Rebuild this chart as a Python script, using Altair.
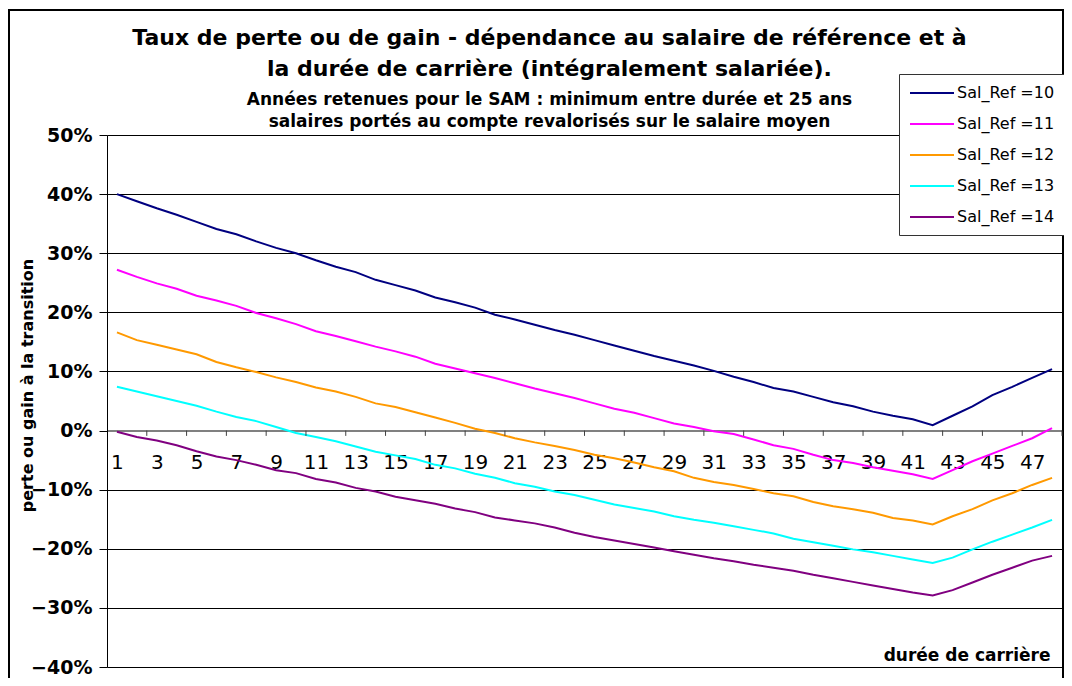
import altair as alt
import pandas as pd

durees = list(range(1, 49))

sal_ref_10 = [40.0, 38.8, 37.6, 36.5, 35.3, 34.1, 33.2, 32.0, 30.9, 30.0,
              28.8, 27.7, 26.8, 25.5, 24.6, 23.7, 22.5, 21.7, 20.8, 19.6,
              18.8, 17.9, 17.0, 16.2, 15.3, 14.4, 13.5, 12.6, 11.8, 11.0,
              10.1, 9.1, 8.2, 7.2, 6.6, 5.7, 4.8, 4.1, 3.2, 2.5,
              1.9, 0.9, 2.5, 4.1, 6.0, 7.4, 8.9, 10.4]
sal_ref_11 = [27.2, 26.0, 24.9, 24.0, 22.8, 22.0, 21.1, 19.9, 19.0, 18.0,
              16.8, 16.0, 15.1, 14.2, 13.4, 12.5, 11.3, 10.5, 9.7, 8.9,
              8.0, 7.1, 6.3, 5.5, 4.6, 3.7, 3.0, 2.1, 1.2, 0.6,
              -0.1, -0.6, -1.5, -2.5, -3.1, -4.1, -5.0, -5.5, -6.2, -6.8,
              -7.4, -8.2, -6.7, -5.2, -3.9, -2.6, -1.3, 0.4]
sal_ref_12 = [16.6, 15.3, 14.5, 13.7, 12.9, 11.6, 10.7, 9.9, 9.0, 8.2,
              7.3, 6.6, 5.7, 4.6, 4.0, 3.1, 2.2, 1.3, 0.3, -0.4,
              -1.3, -2.0, -2.6, -3.3, -4.1, -4.7, -5.4, -6.2, -6.9, -8.0,
              -8.7, -9.2, -9.9, -10.6, -11.1, -12.1, -12.8, -13.3, -13.9, -14.8,
              -15.2, -15.9, -14.5, -13.3, -11.8, -10.6, -9.2, -8.0]
sal_ref_13 = [7.4, 6.6, 5.8, 5.0, 4.2, 3.2, 2.3, 1.6, 0.6, -0.4,
              -1.1, -1.8, -2.7, -3.6, -4.2, -4.8, -5.8, -6.4, -7.3, -8.0,
              -8.9, -9.5, -10.3, -10.9, -11.7, -12.5, -13.1, -13.7, -14.5, -15.1,
              -15.6, -16.2, -16.8, -17.4, -18.3, -18.9, -19.5, -20.1, -20.6, -21.2,
              -21.8, -22.4, -21.5, -20.1, -18.8, -17.6, -16.4, -15.1]
sal_ref_14 = [-0.2, -1.1, -1.7, -2.5, -3.5, -4.4, -5.0, -5.8, -6.7, -7.2,
              -8.2, -8.8, -9.7, -10.3, -11.2, -11.8, -12.4, -13.2, -13.8, -14.7,
              -15.2, -15.7, -16.4, -17.3, -18.0, -18.6, -19.2, -19.8, -20.4, -21.0,
              -21.6, -22.1, -22.7, -23.2, -23.7, -24.4, -25.0, -25.6, -26.2, -26.8,
              -27.4, -27.9, -27.0, -25.7, -24.4, -23.2, -22.0, -21.2]

series_names = ["Sal_Ref =10", "Sal_Ref =11", "Sal_Ref =12", "Sal_Ref =13", "Sal_Ref =14"]
series_values = [sal_ref_10, sal_ref_11, sal_ref_12, sal_ref_13, sal_ref_14]
series_colors = ["#000080", "#FF00FF", "#FF9900", "#00FFFF", "#800080"]

x_labels = list(range(1, 48, 2))
tick_bounds = [k + 0.5 for k in range(2, 49, 2)]
y_ticks = [-0.4, -0.3, -0.2, -0.1, 0.0, 0.1, 0.2, 0.3, 0.4, 0.5]

rows = []
for name, vals in zip(series_names, series_values):
    for d, v in zip(durees, vals):
        rows.append({"duree": d, "taux": v / 100.0, "serie": name})
df = pd.DataFrame(rows)

ticks_df = pd.DataFrame({"b": tick_bounds, "y0": [0.0] * len(tick_bounds),
                         "y1": [-0.009] * len(tick_bounds)})

PLOT_W = 955
PLOT_H = 532
FONT = "DejaVu Sans"

x_scale = alt.Scale(domain=[0.5, 48.5], nice=False, zero=False)
y_scale = alt.Scale(domain=[-0.4, 0.5], nice=False, zero=False)

lines = alt.Chart(df).mark_line(strokeWidth=2).encode(
    x=alt.X("duree:Q", scale=x_scale,
            axis=alt.Axis(values=x_labels, ticks=False, grid=False,
                          offset=-PLOT_H * 4 / 9,
                          domainColor="#808080", domainWidth=2,
                          labelFont=FONT, labelFontSize=20, labelColor="black",
                          labelPadding=22, labelFlush=False,
                          title="durée de carrière", titleFont=FONT,
                          titleFontSize=17, titleFontWeight="bold",
                          titleColor="black", titleAlign="right",
                          titleBaseline="alphabetic",
                          titleX=PLOT_W - 12, titleY=230)),
    y=alt.Y("taux:Q", scale=y_scale,
            axis=alt.Axis(values=y_ticks, format=".0%", grid=True,
                          gridColor="black", gridWidth=1,
                          domainColor="black", domainWidth=1,
                          tickColor="black", tickSize=8,
                          labelFont=FONT, labelFontSize=19, labelFontWeight="bold",
                          labelColor="black", labelPadding=7,
                          title="perte ou gain à la transition", titleFont=FONT,
                          titleFontSize=16, titleFontWeight="bold",
                          titleColor="black", titleAngle=-90,
                          titleX=-80, titleY=250, titleAlign="center",
                          titleBaseline="middle")),
    color=alt.Color("serie:N",
                    scale=alt.Scale(domain=series_names, range=series_colors),
                    legend=alt.Legend(title=None, orient="none",
                                      legendX=792, legendY=-61,
                                      fillColor="white", strokeColor="#333333",
                                      padding=10, symbolType="M-1,0H4.5",
                                      symbolSize=256, symbolStrokeWidth=2,
                                      labelFont=FONT, labelFontSize=16,
                                      labelColor="black", rowPadding=14,
                                      labelOffset=30)),
    order=alt.Order("duree:Q"),
)

tick_marks = alt.Chart(ticks_df).mark_rule(color="#404040", strokeWidth=1).encode(
    x=alt.X("b:Q", scale=x_scale),
    y=alt.Y("y0:Q", scale=y_scale),
    y2="y1:Q",
)

frame = alt.Chart(pd.DataFrame({"f": [0]})).mark_rect(
    fill="transparent", stroke="black", strokeWidth=2
).encode(
    x=alt.value(-98), x2=alt.value(PLOT_W + 1),
    y=alt.value(-125), y2=alt.value(PLOT_H + 40),
)

chart = alt.layer(frame, lines, tick_marks).properties(
    width=PLOT_W,
    height=PLOT_H,
    padding={"left": 99, "top": 127, "right": 2, "bottom": 11},
    autosize=alt.AutoSizeParams(type="none"),
    title=alt.TitleParams(
        text=["Taux de perte ou de gain - dépendance au salaire de référence et à",
              "la durée de carrière (intégralement salariée)."],
        subtitle=["Années retenues pour le SAM : minimum entre durée et 25 ans",
                  "salaires portés au compte revalorisés sur le salaire moyen"],
        font=FONT, fontSize=22, fontWeight="bold", color="black", lineHeight=31,
        subtitleFont=FONT, subtitleFontSize=17, subtitleFontWeight="bold",
        subtitleColor="black", subtitleLineHeight=22, subtitlePadding=11,
        anchor="middle", dx=-35, offset=-122,
    ),
).configure_view(stroke="#808080", strokeWidth=1).configure(background="white")

chart.save("out.html", embed_options={"renderer": "svg", "actions": False})
